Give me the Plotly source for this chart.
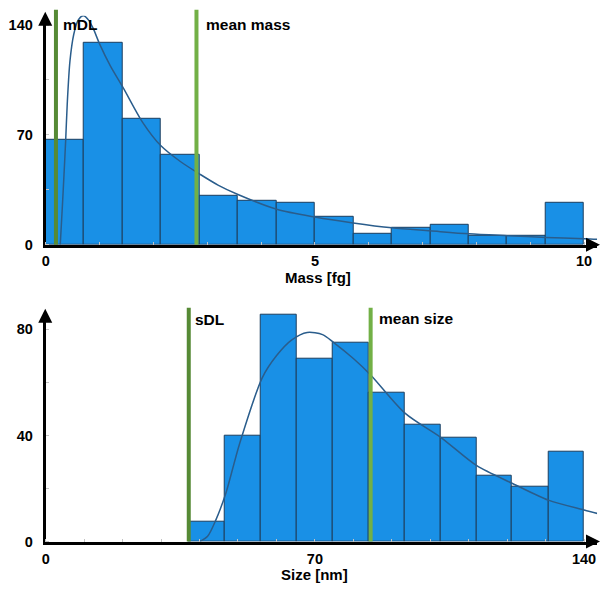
import plotly.graph_objects as go

# ---------------- data ----------------
mass_edges = [0, 0.714, 1.429, 2.143, 2.857, 3.571, 4.286, 5.0, 5.714, 6.429, 7.143, 7.857, 8.571, 9.286, 10.0]
mass_counts = [67, 129, 80.5, 57, 31.4, 27.7, 26.4, 17.6, 6.9, 10.7, 12.6, 5.7, 5.7, 26.4]
mass_fit_x = [0.27, 0.31, 0.34, 0.37, 0.40, 0.45, 0.52, 0.60, 0.70, 0.80, 0.88, 1.0, 1.2, 1.44, 1.8, 2.14, 2.5,
              2.86, 3.2, 3.57, 4.29, 5.0, 5.71, 6.43, 7.14, 7.86, 8.57, 9.29, 10.0, 10.3]
mass_fit_y = [0, 25, 45, 66, 90, 117, 134, 143, 146, 143, 138, 128, 114, 100, 78, 63, 53,
              45, 38, 32, 22.6, 17.6, 13.8, 10.7, 8.8, 6.9, 5.7, 4.6, 3.8, 3.3]
mdl = 0.19
mean_mass = 2.8

size_edges = [37.2, 46.5, 55.9, 65.2, 74.6, 83.9, 93.3, 102.6, 112.0, 121.3, 130.7, 140.0]
size_counts = [7.4, 40, 85.5, 69, 75, 56, 44, 39, 25, 20.7, 33.7]
size_fit_x = [40, 42.1, 44.2, 46.8, 50.4, 56.3, 60, 64, 68, 72, 74.9, 80, 84.5, 93.5, 102.8, 112.1, 121.4,
              130.7, 140, 144]
size_fit_y = [0, 2, 8, 18, 36.8, 61.7, 70, 76, 78.8, 78, 75, 69, 62.8, 48.3, 39.2, 28.6, 21.9,
              15.6, 11.9, 10.4]
sdl = 37.2
mean_size = 84.5

mass_ticks = [0, 5, 10]
mass_yticks = [0, 70, 140]
size_ticks = [0, 70, 140]
size_yticks = [0, 40, 80]

# ---------------- style ----------------
BAR = "#1990e6"
EDGE = "#1c3d5e"
CURVE = "#2a5d8c"
DARKG = "#568a35"
LIGHTG = "#72b046"
FONT = "Liberation Sans, Arial, sans-serif"

W, H = 601, 591
def py(p):  # pixel row -> paper y
    return 1 - p / H

fig = go.Figure()

def centers(edges):
    return [(a + b) / 2 for a, b in zip(edges[:-1], edges[1:])]

def widths(edges):
    return [b - a for a, b in zip(edges[:-1], edges[1:])]

fig.add_trace(go.Bar(x=centers(mass_edges), y=mass_counts, width=widths(mass_edges),
                     marker=dict(color=BAR, line=dict(color=EDGE, width=1)),
                     xaxis="x", yaxis="y", showlegend=False))
fig.add_trace(go.Scatter(x=mass_fit_x, y=mass_fit_y, mode="lines",
                         line=dict(color=CURVE, width=1.5, shape="spline", smoothing=0.8),
                         xaxis="x", yaxis="y", showlegend=False, cliponaxis=False))
fig.add_trace(go.Bar(x=centers(size_edges), y=size_counts, width=widths(size_edges),
                     marker=dict(color=BAR, line=dict(color=EDGE, width=1)),
                     xaxis="x2", yaxis="y2", showlegend=False))
fig.add_trace(go.Scatter(x=size_fit_x, y=size_fit_y, mode="lines",
                         line=dict(color=CURVE, width=1.5, shape="spline", smoothing=0.8),
                         xaxis="x2", yaxis="y2", showlegend=False, cliponaxis=False))

X0P, X1P = 42, 597
x0, x1 = X0P / W, X1P / W
TOP_BASE, TOP_TOP = 248, 16
BOT_BASE, BOT_TOP = 549, 317
top_range = (TOP_BASE - TOP_TOP) / 1.59
bot_range = (BOT_BASE - BOT_TOP) / 2.69
top_xr = (X1P - X0P) / 54.2
bot_xr = (X1P - X0P) / 3.871

tickfont = dict(family=FONT, size=14.5, color="black", weight="bold")
minor_common = dict(ticks="inside", ticklen=3, tickcolor="#c4c4c4", tickwidth=1)
axline = dict(showline=True, linewidth=3, linecolor="black", mirror=False)

fig.update_layout(
    width=W, height=H, margin=dict(l=0, r=0, t=0, b=0),
    plot_bgcolor="white", paper_bgcolor="white", bargap=0,
    xaxis=dict(domain=[x0, x1], range=[0, top_xr], anchor="y", tickvals=mass_ticks, showgrid=False,
               zeroline=False, ticks="", tickfont=tickfont, ticklabelstandoff=1,
               minor=dict(dtick=1, **minor_common), **axline),
    yaxis=dict(domain=[py(TOP_BASE), py(TOP_TOP)], range=[0, top_range], anchor="x", tickvals=mass_yticks,
               showgrid=False, zeroline=False, ticks="", tickfont=tickfont, ticklabelstandoff=7,
               minor=dict(dtick=35, **minor_common), **axline),
    xaxis2=dict(domain=[x0, x1], range=[0, bot_xr], anchor="y2", tickvals=size_ticks, showgrid=False,
                zeroline=False, ticks="", tickfont=tickfont, ticklabelstandoff=2,
                minor=dict(dtick=10, **minor_common), **axline),
    yaxis2=dict(domain=[py(BOT_BASE), py(BOT_TOP)], range=[0, bot_range], anchor="x2", tickvals=size_yticks,
                showgrid=False, zeroline=False, ticks="", tickfont=tickfont, ticklabelstandoff=7,
                minor=dict(dtick=20, **minor_common), **axline),
)

# detection-limit and mean lines reach a bit above the axis tops
shapes = [
    dict(type="line", xref="x", yref="paper", x0=mdl, x1=mdl, y0=py(TOP_BASE), y1=py(10),
         line=dict(color=DARKG, width=4), layer="above"),
    dict(type="line", xref="x", yref="paper", x0=mean_mass, x1=mean_mass, y0=py(TOP_BASE), y1=py(10),
         line=dict(color=LIGHTG, width=4), layer="above"),
    dict(type="line", xref="x2", yref="paper", x0=sdl, x1=sdl, y0=py(BOT_BASE), y1=py(312),
         line=dict(color=DARKG, width=4), layer="above"),
    dict(type="line", xref="x2", yref="paper", x0=mean_size, x1=mean_size, y0=py(BOT_BASE), y1=py(312),
         line=dict(color=LIGHTG, width=4), layer="above"),
]
fig.update_layout(shapes=shapes)

annots = []
def arrow(tip_x, tip_y, dx, dy):
    annots.append(dict(xref="paper", yref="paper", x=tip_x / W, y=py(tip_y),
                       axref="pixel", ayref="pixel", ax=dx, ay=dy, text="",
                       showarrow=True, arrowhead=2, arrowsize=1.0, arrowwidth=2.8, arrowcolor="black",
                       standoff=0, startstandoff=0))

arrow(X0P - 0.5, 12, 0, 14)
arrow(600, TOP_BASE, -14, 0)
arrow(X0P - 0.5, 313, 0, 14)
arrow(600, BOT_BASE, -14, 0)

lab_font = dict(family=FONT, size=15.5, color="black", weight="bold")
title_font = dict(family=FONT, size=15, color="black", weight="bold")
def label(x_px, y_px, t, xa="left", font=lab_font):
    annots.append(dict(xref="paper", yref="paper", x=x_px / W, y=py(y_px), text=t, showarrow=False,
                       xanchor=xa, yanchor="middle", font=font))

label(57, 25, "mDL")
label(201, 25, "mean mass")
label(190, 324, "sDL")
label(375, 323, "mean size")
label(316, 281, "Mass [fg]", "center", title_font)
label(313, 582, "Size [nm]", "center", title_font)
fig.update_layout(annotations=annots)

fig.write_html("out.html")
